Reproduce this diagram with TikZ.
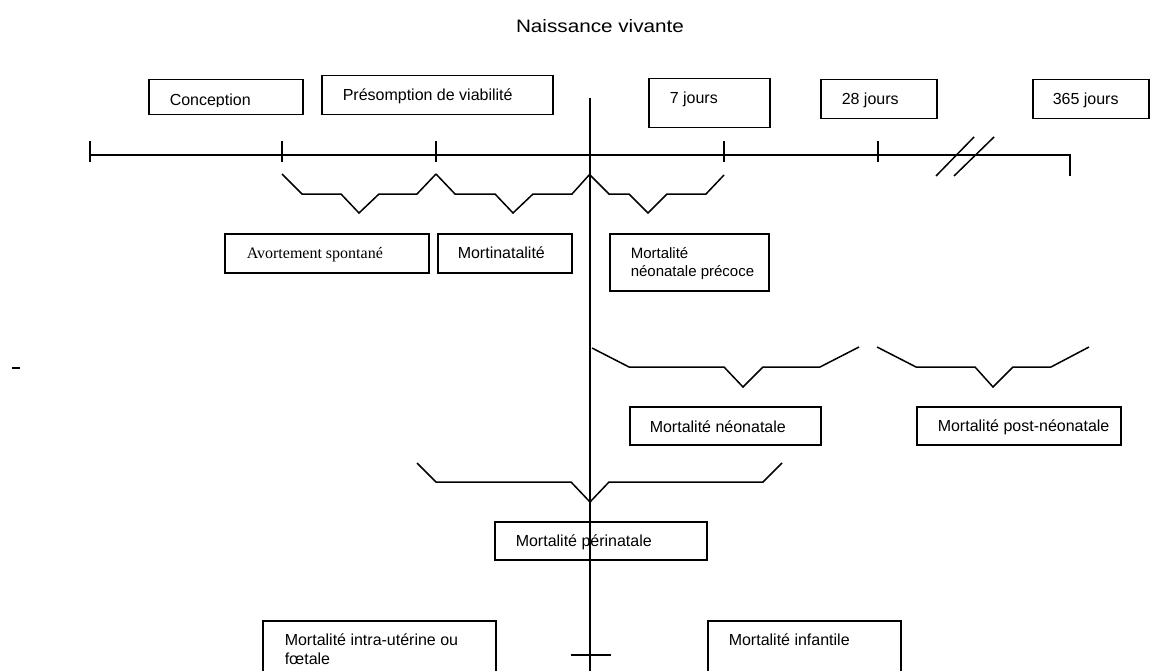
\documentclass[tikz,border=0pt]{standalone}
\usepackage{fontspec}
\setmainfont{Liberation Sans}
\newfontfamily\timesf{Liberation Serif}
\begin{document}
\begin{tikzpicture}[x=1pt,y=-1pt,
  line width=1.5pt,
  box/.style={draw, rectangle, line width=1.5pt, inner sep=0pt, anchor=north west},
  lbl/.style={anchor=base west, inner sep=0pt, font=\fontsize{16}{18}\selectfont},
  brace/.style={line width=1.5pt, line join=miter}]
\useasboundingbox (0,0) rectangle (1155,671);
\clip (0,0) rectangle (1155,671);

% title
\node[anchor=base, inner sep=0pt, font=\fontsize{18}{20}\selectfont] (title) at (600,33) {\scalebox{1.15}[1]{Naissance vivante}};

% top boxes
\node[box, minimum width=154pt, minimum height=35pt] (conc) at (148,79) {};
\begin{scope}
  \clip (150,80) rectangle (300,106.5);
  \node[lbl] (tconc) at (169,106) {Conception};
\end{scope}
\node[box, minimum width=231pt, minimum height=39pt] (pres) at (321,75) {};
\node[lbl] (tpres) at (342,101) {Présomption de viabilité};
\node[box, minimum width=121pt, minimum height=49pt] (j7) at (648,78) {};
\node[lbl] (tj7) at (669,104) {7 jours};
\node[box, minimum width=116pt, minimum height=39pt] (j28) at (820,79) {};
\node[lbl] (tj28) at (841,105) {28 jours};
\node[box, minimum width=116pt, minimum height=39pt] (j365) at (1032,79) {};
\node[lbl] (tj365) at (1052,105) {365 jours};

% timeline
\coordinate (t0) at (90,155);
\coordinate (t1) at (282,155);
\coordinate (t2) at (436,155);
\coordinate (tb) at (590,155);
\coordinate (t3) at (724,155);
\coordinate (t4) at (878,155);
\coordinate (t5) at (1070,155);
\draw (t0) -- (t5) -- ++(0,21);
\foreach \p in {t0,t1,t2,t3,t4}{\draw ([yshift=-7pt]\p) -- ([yshift=14pt]\p);}
% break marks
\draw (936,176) -- (974,137);
\draw (954,176) -- (994,137);

% vertical birth line
\coordinate (vtop) at (590,98);
\coordinate (vbot) at (590,671);
\draw (vtop) -- (vbot);
\draw (571,655) -- (611,655);

% upper braces
\draw[brace] (282,174) -- (302,194) -- (341,194) -- (359,213) -- (379,194) -- (417,194) -- (436,174);
\draw[brace] (436,174) -- (455,194) -- (495,194) -- (513,213) -- (533,194) -- (572,194) -- (590,174);
\draw[brace] (590,175) -- (609,194) -- (629,194) -- (648,213) -- (667,194) -- (706,194) -- (724,175);

% second row boxes
\node[box, minimum width=204pt, minimum height=39pt] (avort) at (224,233) {};
\node[lbl, font=\timesf\fontsize{16}{18}\selectfont] (tavort) at (246,258) {Avortement spontané};
\node[box, minimum width=134pt, minimum height=39pt] (mortin) at (437,233) {};
\node[lbl] (tmortin) at (457,258) {Mortinatalité};
\node[box, minimum width=159pt, minimum height=57pt] (neoprec) at (609,233) {};
\node[lbl, font=\fontsize{15}{17}\selectfont] (tneoprec1) at (630,258) {Mortalité};
\node[lbl, font=\fontsize{15}{17}\selectfont] (tneoprec2) at (630,276) {néonatale précoce};

% dash
\draw[line width=2pt] (12,368) -- (20,368);

% neonatal braces
\draw[brace] (592,348) -- (629,367) -- (724,367) -- (743,387) -- (763,367) -- (820,367) -- (859,347);
\draw[brace] (877,347) -- (916,367) -- (975,367) -- (993,387) -- (1013,367) -- (1051,367) -- (1089,347);
\node[box, minimum width=191pt, minimum height=38pt] (neo) at (629,406) {};
\node[lbl] (tneo) at (649,432) {Mortalité néonatale};
\node[box, minimum width=204pt, minimum height=38pt] (postneo) at (916,406) {};
\node[lbl] (tpostneo) at (937,431) {Mortalité post-néonatale};

% perinatal brace
\draw[brace] (417,463) -- (436,482) -- (571,482) -- (590,502) -- (609,482) -- (763,482) -- (782,463);
\node[box, minimum width=212pt, minimum height=38pt] (peri) at (494,521) {};
\node[lbl] (tperi) at (515,546) {Mortalité périnatale};

% bottom boxes
\node[box, minimum width=233pt, minimum height=60pt] (intra) at (262,620) {};
\node[lbl] (tintra1) at (284,645) {Mortalité intra-utérine ou};
\node[lbl] (tintra2) at (284,664) {fœtale};
\node[box, minimum width=193pt, minimum height=60pt] (inf) at (707,620) {};
\node[lbl] (tinf) at (728,645) {Mortalité infantile};
\end{tikzpicture}
\end{document}
